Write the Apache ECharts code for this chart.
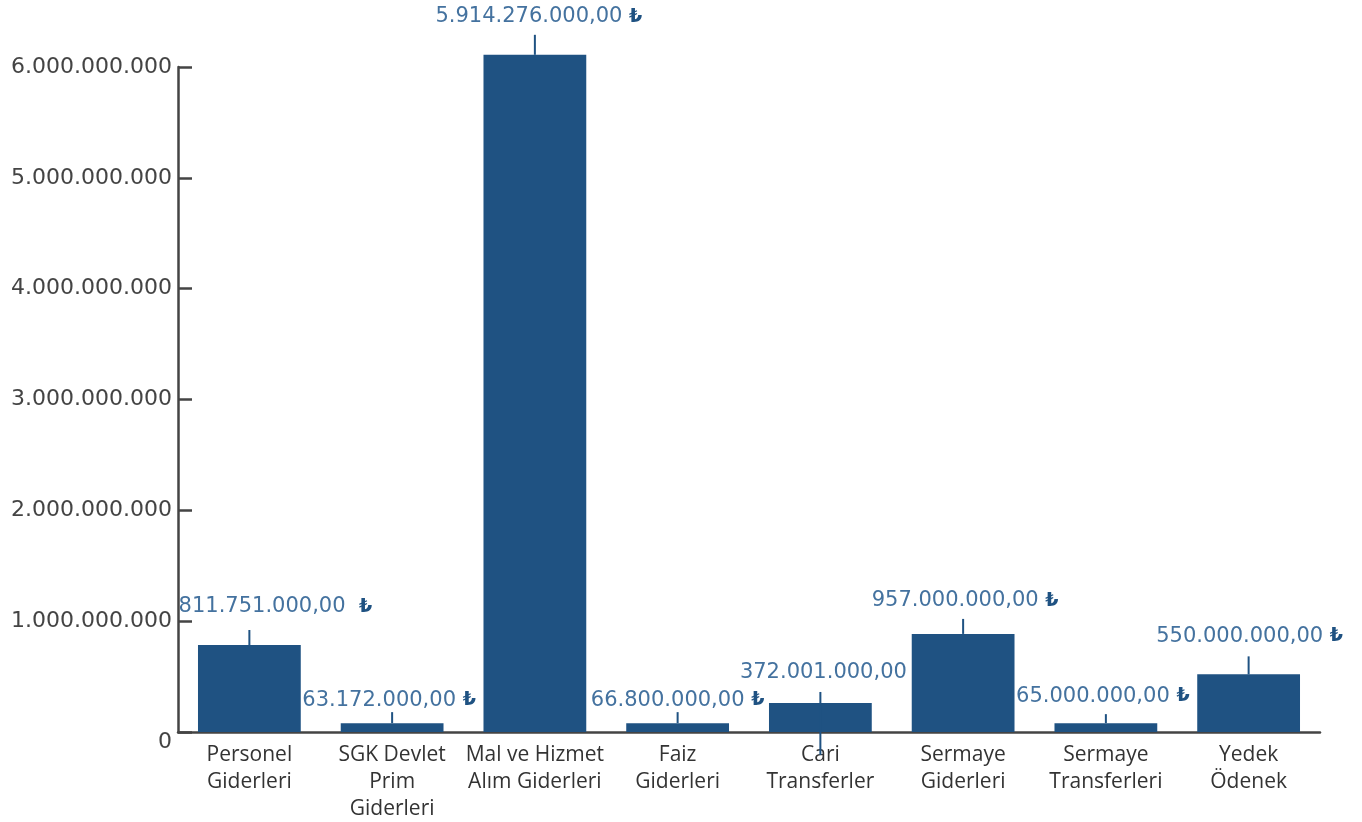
<!DOCTYPE html>
<html>
<head>
<meta charset="utf-8">
<script src="https://cdn.jsdelivr.net/npm/echarts@6/dist/echarts.min.js"></script>
<style>
  html, body { margin: 0; padding: 0; background: #fff; }
  #chart { width: 1362px; height: 822px; }
</style>
</head>
<body>
<div id="chart"></div>
<script>
// bütçe kalemleri
const categories = [
  'Personel\nGiderleri',
  'SGK Devlet\nPrim\nGiderleri',
  'Mal ve Hizmet\nAlım Giderleri',
  'Faiz\nGiderleri',
  'Cari\nTransferler',
  'Sermaye\nGiderleri',
  'Sermaye\nTransferleri',
  'Yedek\nÖdenek'
]
// çubuk yükseklikleri
const barValues = [785e6, 80e6, 6110e6, 80e6, 262e6, 885e6, 80e6, 520e6]
// etiket metinleri
const valueLabels = [
  '811.751.000,00', '63.172.000,00', '5.914.276.000,00', '66.800.000,00',
  '372.001.000,00', '957.000.000,00', '65.000.000,00', '550.000.000,00'
]
const currencySep = ['  ', ' ', ' ', ' ', null, ' ', ' ', ' ']
const yTicks = [0, 1e9, 2e9, 3e9, 4e9, 5e9, 6e9]

// etiket konumu: [dx, dy] çubuk üstüne göre, çizgi: [yukarı, aşağı]
const labelOffsets = [[26, -38], [-3, -23], [4, -38], [0, -23], [3, -30], [2, -33], [-3, -27], [1, -38]]
const leaderLen = [[15, 0], [11, 0], [20, 0], [11, 0], [11, 52], [15, 0], [9, 0], [18, 0]]

const BAR = '#1f5282'
const LABEL = '#44729f'
const AXIS = '#444'
const NUM_FONT = 'DejaVu Sans'

function fmtDots(v) {
  return String(Math.round(v)).replace(/\B(?=(\d{3})+(?!\d))/g, '.')
}

const chart = echarts.init(document.getElementById('chart'))

chart.setOption({
  backgroundColor: '#fff',
  animation: false,
  grid: { left: 178, right: 42, top: 67, bottom: 90, outerBoundsMode: 'none', containLabel: false },
  xAxis: {
    type: 'category',
    data: categories,
    axisLine: { lineStyle: { color: AXIS, width: 2.5 } },
    axisTick: { inside: true, length: 12, lineStyle: { color: AXIS, width: 2 } },
    axisLabel: {
      color: '#333', fontSize: 21, fontFamily: 'Open Sans', lineHeight: 27,
      margin: 10, interval: 0
    }
  },
  yAxis: {
    type: 'value',
    min: yTicks[0], max: yTicks[yTicks.length - 1], interval: 1e9,
    splitLine: { show: false },
    axisLine: { show: true, lineStyle: { color: AXIS, width: 2.5 } },
    axisTick: { show: true, inside: true, length: 14, lineStyle: { color: AXIS, width: 2.5 } },
    axisLabel: {
      color: AXIS, fontSize: 22, fontFamily: NUM_FONT, margin: 6,
      formatter: v => v === 0 ? '{z|0}' : fmtDots(v),
      rich: { z: { fontSize: 22, fontFamily: NUM_FONT, color: AXIS, padding: [20, 0, 0, 0] } }
    }
  },
  series: [
    {
      type: 'bar',
      data: barValues,
      barCategoryGap: '28%',
      clip: false,
      itemStyle: { color: BAR }
    },
    {
      type: 'custom',
      data: barValues.map((v, i) => [i, v]),
      z: 5,
      renderItem: (params, api) => {
        const i = params.dataIndex
        const p = api.coord([api.value(0), api.value(1)])
        const [up, down] = leaderLen[i]
        const [dx, dy] = labelOffsets[i]
        const txt = currencySep[i] === null
          ? '{v|' + valueLabels[i] + '}'
          : '{v|' + valueLabels[i] + currencySep[i] + '}{t|₺}'
        return {
          type: 'group',
          children: [
            {
              type: 'line',
              shape: { x1: p[0], y1: p[1] - up, x2: p[0], y2: p[1] + down },
              style: { stroke: BAR, lineWidth: 2 }
            },
            {
              type: 'text',
              x: p[0] + dx,
              y: p[1] + dy,
              style: {
                text: txt,
                align: 'center',
                verticalAlign: 'middle',
                rich: {
                  v: { fill: LABEL, fontSize: 21, fontFamily: NUM_FONT },
                  t: { fill: BAR, fontSize: 19, fontWeight: 'bold', fontFamily: 'DejaVu Sans' }
                }
              }
            }
          ]
        }
      }
    }
  ]
})
</script>
</body>
</html>
